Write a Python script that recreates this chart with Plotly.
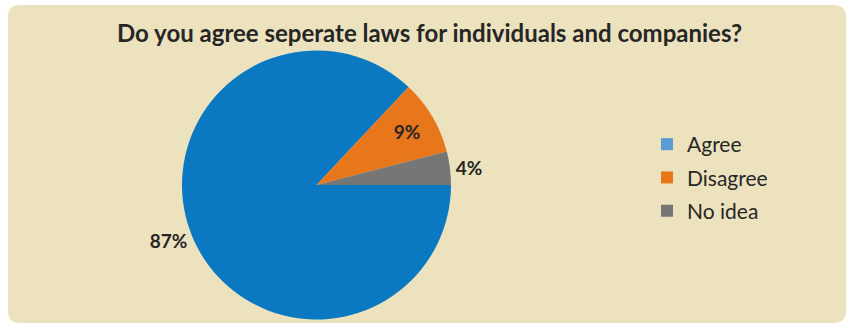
import plotly.graph_objects as go

categories = ["Agree", "Disagree", "No idea"]
values = [87, 9, 4]
pie_colors = ["#0A79C1", "#E8771C", "#767676"]
legend_colors = ["#5B9BD5", "#E8771C", "#767676"]
title_text = "Do you agree seperate laws for individuals and companies?"

W, H = 846, 325
FONT = "Lato, 'Open Sans', sans-serif"
TXT = "#262626"

fig = go.Figure()

fig.add_trace(go.Pie(
    labels=categories,
    values=values,
    sort=False,
    direction="clockwise",
    rotation=90,
    marker=dict(colors=pie_colors, line=dict(width=0)),
    texttemplate="%{percent:.0%}",
    textposition=["outside", "inside", "outside"],
    textfont=dict(family=FONT, size=19, color=TXT, weight="bold"),
    insidetextorientation="horizontal",
    showlegend=False,
    domain=dict(x=[182 / W, 451 / W], y=[1 - 320 / H, 1 - 50 / H]),
    hoverinfo="label+percent",
))

for i, (c, col) in enumerate(zip(categories, legend_colors)):
    fig.add_trace(go.Scatter(
        x=[None], y=[None], mode="markers", name=c,
        marker=dict(symbol="square", size=12, color=col),
        legendgroup=c, showlegend=True,
    ))

fig.update_layout(
    width=W, height=H,
    margin=dict(l=0, r=0, t=0, b=0),
    paper_bgcolor="white",
    plot_bgcolor="rgba(0,0,0,0)",
    xaxis=dict(visible=False),
    yaxis=dict(visible=False),
    showlegend=True,
    legend=dict(
        x=647 / W, y=1 - 124 / H, xanchor="left", yanchor="top",
        font=dict(family=FONT, size=21, color=TXT),
        bgcolor="rgba(0,0,0,0)",
        tracegroupgap=3,
        itemclick=False, itemdoubleclick=False,
    ),
    annotations=[dict(
        text="<b>" + title_text + "</b>",
        x=429.5 / W, y=1 - 32 / H, xref="paper", yref="paper",
        xanchor="center", yanchor="middle", showarrow=False,
        font=dict(family=FONT, size=24, color=TXT),
    )],
    shapes=[dict(
        type="path", xref="paper", yref="paper", layer="below",
        path="M {0},{1} L {2},{1} Q {3},{1} {3},{4} L {3},{5} Q {3},{6} {2},{6} L {0},{6} Q {7},{6} {7},{5} L {7},{4} Q {7},{1} {0},{1} Z".format(
            20 / W, 1 - 5 / H, 834 / W, 846 / W, 1 - 17 / H, 1 - 311 / H, 1 - 323 / H, 8 / W),
        fillcolor="#ECE2BE", line=dict(width=0),
    )],
)

fig.write_html(
    "out.html",
    config={"displayModeBar": False},
    post_script="document.body.style.margin='0px';document.body.style.overflow='hidden';",
)
